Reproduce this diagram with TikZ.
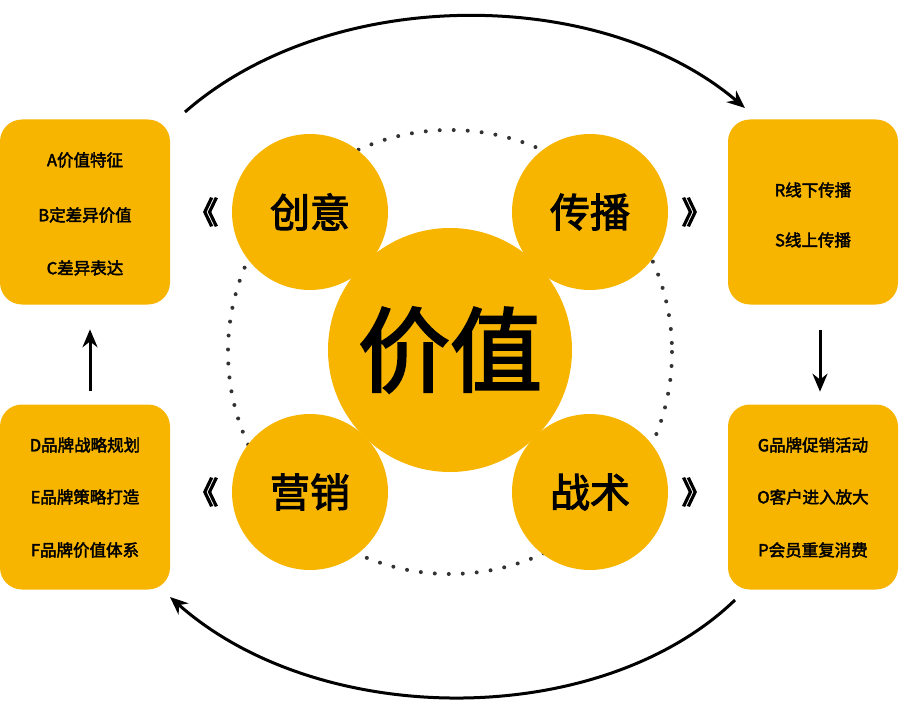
\documentclass[tikz,border=0pt]{standalone}
\usepackage{fontspec}
\newfontfamily\cjk[FakeBold=2.5]{Noto Sans CJK SC}
\newfontfamily\cjkheavy[FakeBold=5]{Noto Sans CJK SC}
\usetikzlibrary{arrows.meta}
\definecolor{gold}{HTML}{F7B500}
\begin{document}
\begin{tikzpicture}[x=1pt,y=-1pt]
    % Define the styles for the boxes, circles and arrows
    \tikzstyle{panel}=[rectangle, rounded corners=22pt, fill=gold, minimum width=170pt, minimum height=185pt]
    \tikzstyle{item}=[font=\cjk\fontsize{16.5}{18}\selectfont, anchor=center]
    \tikzstyle{bubble}=[circle, fill=gold, minimum size=156pt, font=\cjk\fontsize{40}{44}\selectfont]
    \tikzstyle{chev}=[font=\cjkheavy\fontsize{30}{32}\selectfont]
    \tikzstyle{arrow}=[line width=3pt,-{Stealth[length=18pt,width=15pt]}]

    \useasboundingbox (0,0) rectangle (900,714);

    % Dotted ring behind the circles
    \draw[line width=4pt, dash pattern=on 0pt off 14pt, line cap=round, black!80] (450,352) circle (222);

    % Draw the circles
    \node[circle, fill=gold, minimum size=244pt, font=\cjk\fontsize{92}{96}\selectfont] (value) at (450,350) {价值};
    \node[bubble] (idea) at (310,212) {创意};
    \node[bubble] (spread) at (590,212) {传播};
    \node[bubble] (market) at (310,492) {营销};
    \node[bubble] (tactic) at (590,492) {战术};

    % Draw the boxes
    \node[panel] (boxA) at (85,212) {};
    \node[panel] (boxR) at (813,212) {};
    \node[panel] (boxD) at (85,497) {};
    \node[panel] (boxG) at (813,497) {};

    \node[item] (a1) at (85,160) {A价值特征};
    \node[item] (a2) at (85,215) {B定差异价值};
    \node[item] (a3) at (85,268) {C差异表达};
    \node[item] (r1) at (813,190) {R线下传播};
    \node[item] (r2) at (813,240) {S线上传播};
    \node[item] (d1) at (85,445) {D品牌战略规划};
    \node[item] (d2) at (85,497) {E品牌策略打造};
    \node[item] (d3) at (85,550) {F品牌价值体系};
    \node[item] (g1) at (813,445) {G品牌促销活动};
    \node[item] (g2) at (813,497) {O客户进入放大};
    \node[item] (g3) at (813,550) {P会员重复消费};

    % Chevrons
    \node[chev] (c1) at (203,212) {《};
    \node[chev] (c2) at (203,492) {《};
    \node[chev] (c3) at (697,212) {》};
    \node[chev] (c4) at (697,492) {》};

    % Draw the arrows
    \coordinate (topL) at (185,112);
    \coordinate (topR) at (745,108);
    \coordinate (botR) at (735,600);
    \coordinate (botL) at (170,597);
    \draw[arrow] (topL) .. controls (330,-15) and (600,-15) .. (topR);
    \draw[arrow] (botR) .. controls (600,730) and (320,730) .. (botL);
    \draw[arrow] (boxR.south -| 820,0) ++(0,25) -- ++(0,62);
    \draw[arrow] (boxD.north -| 90,0) ++(0,-13) -- ++(0,-62);
\end{tikzpicture}
\end{document}
